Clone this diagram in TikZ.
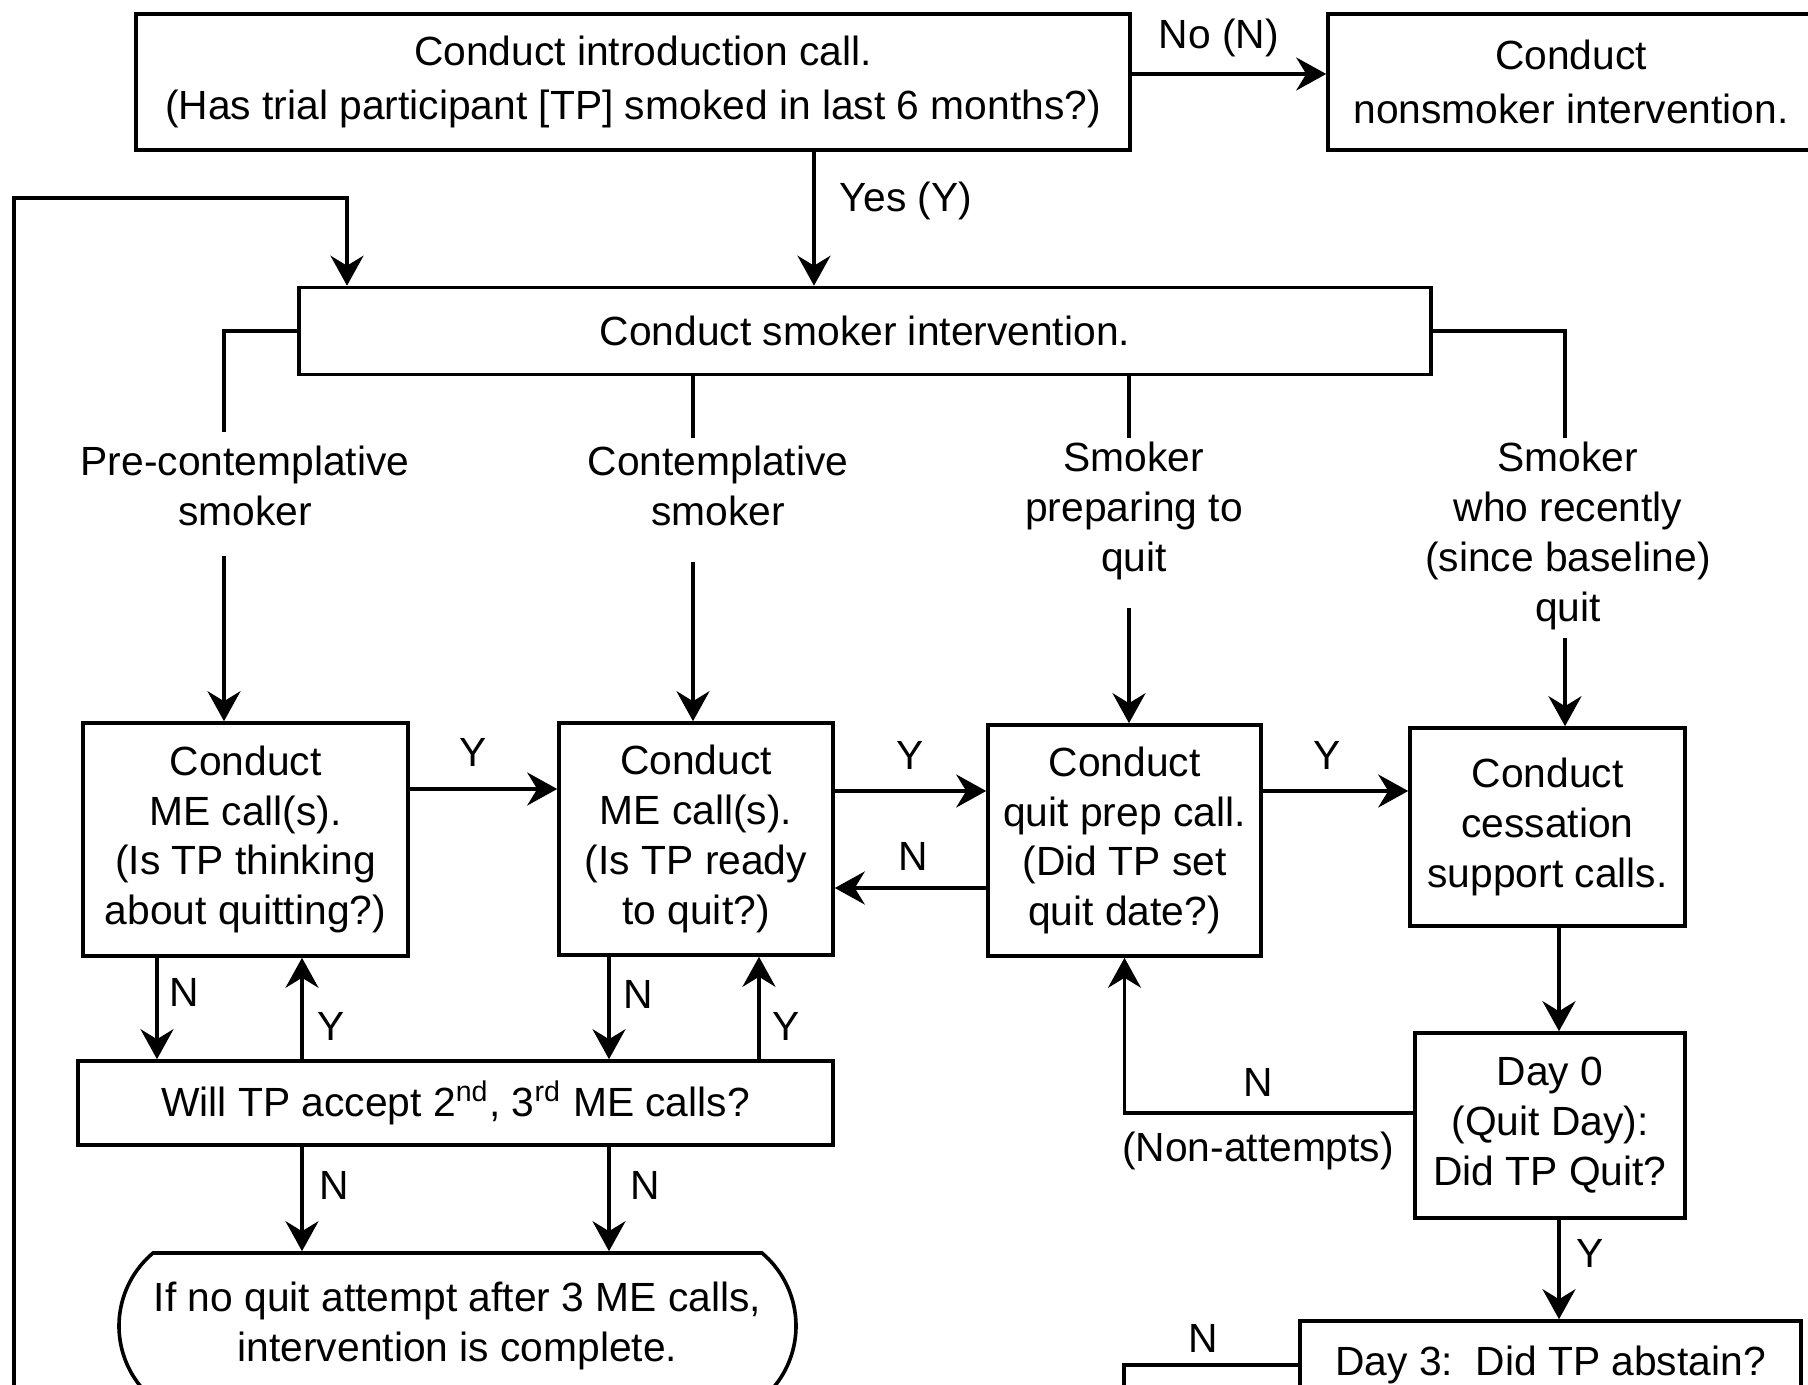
\documentclass[tikz,border=0pt]{standalone}
\usepackage{fontspec}
\setmainfont{Liberation Sans}
\usetikzlibrary{arrows.meta,shapes.misc}

\begin{document}
\begin{tikzpicture}[x=0.1mm,y=-0.1mm,
    every node/.style={font=\fontsize{11.6}{14.2}\selectfont},
    box/.style={draw,line width=0.36mm,align=center,inner sep=0pt},
    txt/.style={align=center,inner sep=1pt},
    arr/.style={-{Stealth[length=3mm,width=3.3mm,inset=1mm]},line width=0.34mm},
    ln/.style={line width=0.34mm}]
  \useasboundingbox (0,0) rectangle (1808,1385);
  \clip (0,0) rectangle (1808,1385);

  \node[box,minimum width=99.4mm,minimum height=13.6mm,font=\fontsize{11.6}{15.6}\selectfont] (intro) at (633,82)
    {\hspace*{2mm}Conduct introduction call.\\(Has trial participant [TP] smoked in last 6 months?)};
  \node[box,minimum width=48.6mm,minimum height=13.6mm,font=\fontsize{11.6}{15.6}\selectfont] (nons) at (1571,82)
    {Conduct\\nonsmoker intervention.};
  \node[box,minimum width=113.2mm,minimum height=8.7mm] (smk) at (865,331) {Conduct smoker intervention.};

  \node[txt] (pre) at (245,486) {Pre-contemplative\\smoker};
  \node[txt] (con) at (718,486) {Contemplative\\smoker};
  \node[txt] (prep) at (1134,511) {Smoker\\preparing to\\quit};
  \node[txt] (rec) at (1568,536) {Smoker\\who recently\\(since baseline)\\quit};

  \node[box,minimum width=32.5mm,minimum height=23.3mm] (me1) at (245.5,839.5)
    {Conduct\\ME call(s).\\(Is TP thinking\\about quitting?)};
  \node[box,minimum width=27.4mm,minimum height=23.2mm] (me2) at (696,839)
    {Conduct\\ME call(s).\\(Is TP ready\\to quit?)};
  \node[box,minimum width=27.3mm,minimum height=23.1mm] (qp) at (1124.5,840.5)
    {Conduct\\quit prep call.\\(Did TP set\\quit date?)};
  \node[box,minimum width=27.5mm,minimum height=19.8mm] (cs) at (1547.5,827)
    {Conduct\\cessation\\support calls.};
  \node[box,minimum width=75.5mm,minimum height=8.4mm] (will) at (455.5,1103)
    {Will TP accept 2\textsuperscript{nd}, 3\textsuperscript{rd} ME calls?};
  \node[box,rounded rectangle,rounded rectangle arc length=100,minimum width=67.7mm,minimum height=14.6mm] (term) at (457.5,1326)
    {If no quit attempt after 3 ME calls,\\intervention is complete.};
  \node[box,minimum width=27mm,minimum height=18.5mm] (d0) at (1550,1125.5)
    {Day 0\\(Quit Day):\\Did TP Quit?};
  \node[box,minimum width=50.1mm,minimum height=8.8mm] (d3) at (1550.5,1365) {Day 3:\ \ Did TP abstain?};

  \coordinate (r0) at (0,74);
  \coordinate (c6) at (814,0);
  \draw[arr] (intro.east |- r0) -- (nons.west |- r0);
  \draw[arr] (c6 |- intro.south) -- (c6 |- smk.north);
  \coordinate (e0) at (14,1420);
  \coordinate (c0) at (347,198);
  \draw[arr] (e0) |- (c0) -- (c0 |- smk.north);

  \coordinate (t1) at (224,432);
  \coordinate (t2) at (693,438);
  \coordinate (t3) at (1129,438);
  \coordinate (t4) at (1565,438);
  \draw[ln] (smk.west) -| (t1);
  \draw[ln] (t2 |- smk.south) -- (t2);
  \draw[ln] (t3 |- smk.south) -- (t3);
  \draw[ln] (smk.east) -| (t4);
  \coordinate (a1) at (224,556);
  \coordinate (a2) at (693,562);
  \coordinate (a3) at (1129,608);
  \coordinate (a4) at (1565,638);
  \draw[arr] (a1) -- (a1 |- me1.north);
  \draw[arr] (a2) -- (a2 |- me2.north);
  \draw[arr] (a3) -- (a3 |- qp.north);
  \draw[arr] (a4) -- (a4 |- cs.north);

  \coordinate (r1) at (0,789);
  \coordinate (r2) at (0,791);
  \coordinate (r3) at (0,888);
  \draw[arr] (me1.east |- r1) -- (me2.west |- r1);
  \draw[arr] (me2.east |- r2) -- (qp.west |- r2);
  \draw[arr] (qp.east |- r2) -- (cs.west |- r2);
  \draw[arr] (qp.west |- r3) -- (me2.east |- r3);

  \coordinate (c1) at (157,0);
  \coordinate (c2) at (302,0);
  \coordinate (c3) at (609,0);
  \coordinate (c4) at (759,0);
  \draw[arr] (c1 |- me1.south) -- (c1 |- will.north);
  \draw[arr] (c2 |- will.north) -- (c2 |- me1.south);
  \draw[arr] (c3 |- me2.south) -- (c3 |- will.north);
  \draw[arr] (c4 |- will.north) -- (c4 |- me2.south);
  \draw[arr] (c2 |- will.south) -- (c2 |- term.north);
  \draw[arr] (c3 |- will.south) -- (c3 |- term.north);

  \coordinate (c5) at (1559,0);
  \coordinate (r4) at (0,1113);
  \coordinate (e1) at (1124,1420);
  \draw[arr] (c5 |- cs.south) -- (c5 |- d0.north);
  \draw[arr] (c5 |- d0.south) -- (c5 |- d3.north);
  \draw[arr] (d0.west |- r4) -| (qp.south);
  \draw[ln] (d3.west) -| (e1);

  \node (lno) at (1219,38) {No (N)};
  \node (lyes) at (906,201) {Yes (Y)};
  \node (lnon) at (1258,1151) {(Non-attempts)};
  \foreach \x/\y/\t [count=\i] in {473/752/Y,910/755/Y,1327/755/Y,913/856/N,184/992/N,331/1026/Y,
      638/994/N,786/1026/Y,334/1185/N,645/1185/N,1258/1082/N,1590/1253/Y,1203/1338/N}
    \node (lab\i) at (\x,\y) {\t};
\end{tikzpicture}
\end{document}
